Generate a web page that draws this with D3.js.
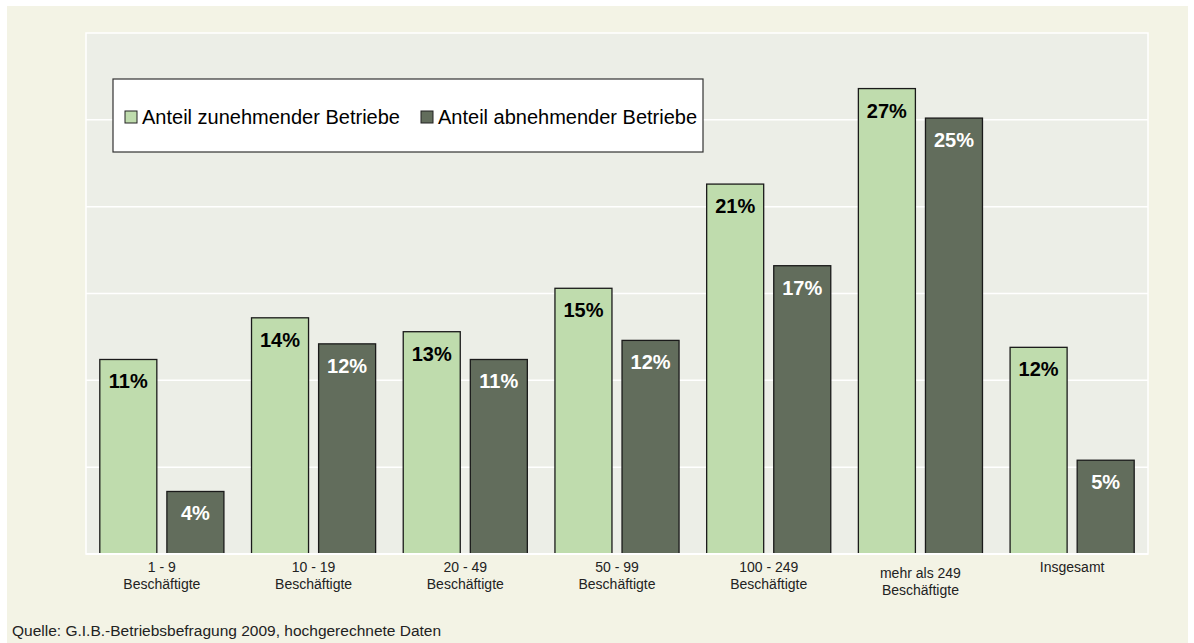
<!DOCTYPE html>
<html>
<head>
<meta charset="utf-8">
<script src="https://cdn.jsdelivr.net/npm/d3@7"></script>
<style>
  body { margin: 0; background: #fff; }
  svg { display: block; font-family: "Liberation Sans", Arial, sans-serif; }
</style>
</head>
<body>
<svg id="chart" width="1194" height="643"></svg>
<script>
// data
const categories = [
  ['1 - 9', 'Beschäftigte'],
  ['10 - 19', 'Beschäftigte'],
  ['20 - 49', 'Beschäftigte'],
  ['50 - 99', 'Beschäftigte'],
  ['100 - 249', 'Beschäftigte'],
  ['mehr als 249', 'Beschäftigte'],
  ['Insgesamt']
];
const zunehmend = [11.2, 13.6, 12.8, 15.3, 21.3, 26.8, 11.9];
const abnehmend = [3.6, 12.1, 11.2, 12.3, 16.6, 25.1, 5.4];
const seriesNames = ['Anteil zunehmender Betriebe', 'Anteil abnehmender Betriebe'];
const yTicks = [0, 5, 10, 15, 20, 25, 30];

const svg = d3.select('#chart');
const plot = {left: 86, top: 33, right: 1148, bottom: 554};

// outer background
svg.append('rect')
  .attr('x', 7).attr('y', 6)
  .attr('width', 1181).attr('height', 637)
  .attr('fill', '#f3f3e5');

svg.append('rect')
  .attr('x', plot.left).attr('y', plot.top)
  .attr('width', plot.right - plot.left).attr('height', plot.bottom - plot.top)
  .attr('fill', '#eceee7')
  .attr('stroke', '#fff').attr('stroke-width', 1.5);

const x0 = d3.scaleBand()
  .domain(d3.range(categories.length))
  .range([plot.left, plot.right])
  .paddingInner(0.182)
  .paddingOuter(0.091);

const x1 = d3.scaleBand()
  .domain([0, 1])
  .range([0, x0.bandwidth()])
  .paddingInner(0.15);

const y = d3.scaleLinear().domain([0, 30]).range([plot.bottom, plot.top]);

// gridlines
svg.append('g').selectAll('line')
  .data(yTicks.slice(1, -1))
  .join('line')
  .attr('x1', plot.left).attr('x2', plot.right)
  .attr('y1', d => y(d)).attr('y2', d => y(d))
  .attr('stroke', '#fff').attr('stroke-width', 1.5);

const rows = categories.map((c, i) => [
  {i, s: 0, v: zunehmend[i]},
  {i, s: 1, v: abnehmend[i]}
]).flat();

const colors = ['#bfdcad', '#626d5c'];
const labelColors = ['#000', '#fff'];

svg.append('g').selectAll('rect')
  .data(rows)
  .join('rect')
  .attr('x', d => x0(d.i) + x1(d.s))
  .attr('y', d => y(d.v))
  .attr('width', x1.bandwidth())
  .attr('height', d => y(0) - y(d.v))
  .attr('fill', d => colors[d.s])
  .attr('stroke', '#1a1a1a').attr('stroke-width', 1.3);

svg.append('g').selectAll('text')
  .data(rows)
  .join('text')
  .attr('x', d => x0(d.i) + x1(d.s) + x1.bandwidth() / 2)
  .attr('y', d => y(d.v) + 29)
  .attr('text-anchor', 'middle')
  .attr('font-size', 20).attr('font-weight', 'bold')
  .attr('fill', d => labelColors[d.s])
  .text(d => Math.round(d.v) + '%');

// bottom axis line
svg.append('line')
  .attr('x1', plot.left).attr('x2', plot.right)
  .attr('y1', plot.bottom).attr('y2', plot.bottom)
  .attr('stroke', '#fff').attr('stroke-width', 2);

// category labels
const catG = svg.append('g').selectAll('text')
  .data(categories)
  .join('text')
  .attr('text-anchor', 'middle')
  .attr('font-size', 14).attr('fill', '#222')
  .attr('transform', (d, i) => `translate(${x0(i) + x0.bandwidth() / 2},${d[0].startsWith('mehr') ? 578 : 572})`);

catG.selectAll('tspan')
  .data(d => d)
  .join('tspan')
  .attr('x', 0)
  .attr('dy', (d, j) => j === 0 ? 0 : 17)
  .text(d => d);

// legend
const legend = svg.append('g');
legend.append('rect')
  .attr('x', 113).attr('y', 79)
  .attr('width', 590).attr('height', 73)
  .attr('fill', '#fff').attr('stroke', '#333').attr('stroke-width', 1.2);

const legendX = [125, 421];
seriesNames.forEach((name, k) => {
  legend.append('rect')
    .attr('x', legendX[k]).attr('y', 111)
    .attr('width', 12).attr('height', 12)
    .attr('fill', colors[k]).attr('stroke', '#222').attr('stroke-width', 1);
  legend.append('text')
    .attr('x', legendX[k] + 17).attr('y', 124)
    .attr('font-size', 20).attr('fill', '#000')
    .text(name);
});

svg.append('text')
  .attr('x', 12).attr('y', 636)
  .attr('font-size', 15.5).attr('fill', '#222')
  .text('Quelle: G.I.B.-Betriebsbefragung 2009, hochgerechnete Daten');
</script>
</body>
</html>
